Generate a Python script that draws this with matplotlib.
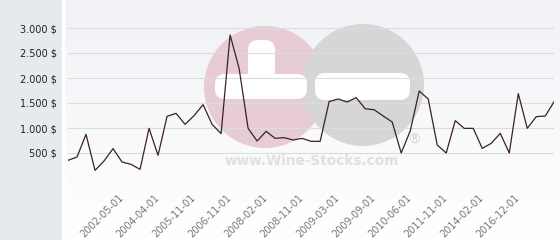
import numpy as np
import matplotlib.pyplot as plt
from matplotlib.patches import Rectangle, Circle, FancyBboxPatch
from matplotlib.colors import LinearSegmentedColormap

# price per bottle, one value per sale date (only every 4th date is labelled)
prices = [353, 420, 873, 153, 340, 587, 320, 273, 173, 993,
          453, 1233, 1293, 1073, 1247, 1467, 1073, 887, 2860, 2193,
          993, 740, 933, 793, 807, 760, 793, 733, 733, 1530,
          1580, 1520, 1607, 1385, 1365, 1240, 1120, 500, 940, 1740,
          1580, 660, 500, 1147, 993, 993, 593, 693, 893, 500,
          1687, 993, 1227, 1240, 1533]
tick_pos = [6, 10, 14, 18, 22, 26, 30, 34, 38, 42, 46, 50]
tick_labels = ["2002-05-01", "2004-04-01", "2005-11-01", "2006-11-01",
               "2008-02-01", "2008-11-01", "2009-03-01", "2009-09-01",
               "2010-06-01", "2011-11-01", "2014-02-01", "2016-12-01"]
y_ticks = [500, 1000, 1500, 2000, 2500, 3000]

W, H = 560, 240
fig = plt.figure(figsize=(W / 100, H / 100), dpi=100)

# left grey panel + background gradient
fig.patches.append(Rectangle((0, 0), 62 / W, 1, transform=fig.transFigure,
                             color="#e6eaed", zorder=0))
fig.patches.append(Rectangle((62 / W, 0), 1.5 / W, 1, transform=fig.transFigure,
                             color="#ffffff", zorder=0))
bg = fig.add_axes([63.5 / W, 0, 1 - 63.5 / W, 1], zorder=0)
grad = np.linspace(0, 1, 100).reshape(-1, 1)
cmap = LinearSegmentedColormap.from_list("bg", ["#f1f2f6", "#ffffff"])
bg.imshow(grad, aspect="auto", cmap=cmap, extent=[0, 1, 0, 1], origin="upper")
bg.axis("off")

# watermark (logo) in pixel coordinates
wm = fig.add_axes([0, 0, 1, 1], zorder=1)
wm.set_xlim(0, W)
wm.set_ylim(H, 0)
wm.axis("off")
wm.add_patch(Circle((265, 87), 61, color="#e7ccd3", lw=0))
wm.add_patch(Circle((363, 85), 61, color="#d6d6d6", lw=0))
for x0, y0, w, h in [(215, 74, 92, 25), (248, 40, 27, 59), (315, 73, 95, 27)]:
    wm.add_patch(FancyBboxPatch((x0, y0), w, h,
                                boxstyle="round,pad=0,rounding_size=10",
                                color="white", lw=0))
wm.text(312, 161, "www.Wine-Stocks.com", fontsize=9.8, fontweight="bold",
        color="#e0e0e0", ha="center", va="center")
wm.text(414, 140, "®", fontsize=10, color="#d6d6d6", ha="center", va="center")

ax = fig.add_axes([68 / W, 62 / H, (554.3 - 68) / W, 170 / H], zorder=2)
ax.patch.set_alpha(0)
x = np.arange(len(prices))
ax.plot(x, prices, color="#3b1f2b", lw=0.9, zorder=3)
ax.set_xlim(0, len(prices) - 1)
ax.set_ylim(0, 3400)
ax.set_yticks([0] + y_ticks)
ax.set_yticklabels([""] + [f"{v:,}".replace(",", ".") + " $" for v in y_ticks],
                   fontsize=7, color="#222222")
ax.set_xticks(tick_pos)
ax.set_xticklabels(tick_labels, rotation=45, ha="right", va="center",
                   rotation_mode="anchor", fontsize=7, color="#777777")
ax.tick_params(axis="x", length=0, pad=13)
ax.tick_params(axis="y", length=0, pad=8)
ax.grid(axis="y", color="#dcdcdc", lw=0.8)
ax.set_axisbelow(True)
for s in ax.spines.values():
    s.set_visible(False)

fig.savefig("out.png", dpi=100)
